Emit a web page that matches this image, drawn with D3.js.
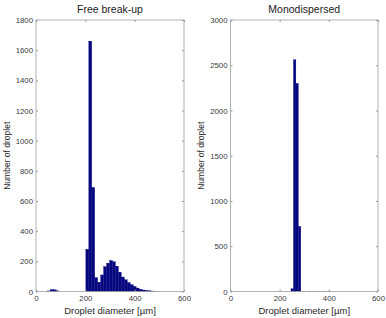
<!DOCTYPE html>
<html>
<head>
<meta charset="utf-8">
<script src="https://cdn.jsdelivr.net/npm/d3@7"></script>
<style>
  body { margin: 0; background: #fff; }
  svg { display: block; font-family: "Liberation Sans", Arial, sans-serif; }
</style>
</head>
<body>
<svg id="chart" width="386" height="318"></svg>
<script>
// free break-up histogram: bin edges [µm] and counts
var freeEdges = [46, 58, 70, 82, 94, 202, 214, 226, 238, 250, 262, 274, 286, 298, 310, 322,
                 334, 346, 358, 370, 382, 394, 406, 418, 430, 442, 454, 466, 478, 490];
var freeCounts = [4, 13, 11, 4, 0, 280, 1660, 690, 92, 62, 110, 165, 188, 206, 198, 168,
                  128, 96, 78, 60, 46, 34, 23, 15, 10, 7, 5, 3, 1];

// monodispersed histogram
var monoEdges = [246, 256, 266, 276, 286, 296, 306, 316, 326, 336, 346, 356, 366, 376, 386, 396, 406];
var monoCounts = [30, 2560, 2300, 720, 0, 2, 0, 3, 0, 2, 0, 3, 0, 2, 0, 1];

var xTicks = [0, 200, 400, 600];
var freeYTicks = [0, 200, 400, 600, 800, 1000, 1200, 1400, 1600, 1800];
var monoYTicks = [0, 500, 1000, 1500, 2000, 2500, 3000];

var svg = d3.select('#chart');
var fmt = d3.format('d');

var panel = (opts) => {
  let x = d3.scaleLinear().domain([0, 600]).range([opts.left, opts.right]);
  let y = d3.scaleLinear().domain([0, opts.ymax]).range([opts.bottom, opts.top]);

  let g = svg.append('g');

  // bars
  let bins = opts.counts.map((c, i) => ({ x0: opts.edges[i], x1: opts.edges[i + 1], c: c }))
    .filter((b) => b.c > 0);

  g.selectAll('rect.bar')
    .data(bins)
    .enter().append('rect')
    .attr('class', 'bar')
    .attr('x', (d) => x(d.x0))
    .attr('width', (d) => x(d.x1) - x(d.x0))
    .attr('y', (d) => y(d.c))
    .attr('height', (d) => y(0) - y(d.c))
    .attr('fill', '#06067f')
    .attr('stroke', '#06067f')
    .attr('stroke-width', 0.3);

  // axes, ticks inside on all four sides
  let ax = (axis, tr) => {
    let a = g.append('g').attr('transform', tr).call(axis);
    a.select('.domain').remove();
    a.selectAll('.tick line').attr('stroke', '#9a9a9a');
    a.selectAll('.tick text').attr('fill', '#3a3a3a').attr('font-size', 7.8).style('font-family', 'Liberation Sans, Arial, sans-serif');
    return a;
  };

  ax(d3.axisBottom(x).tickValues(xTicks).tickFormat(fmt).tickSize(-2).tickPadding(4), `translate(0,${opts.bottom})`);
  ax(d3.axisTop(x).tickValues(xTicks).tickSize(-2).tickFormat(''), `translate(0,${opts.top})`);
  ax(d3.axisLeft(y).tickValues(opts.yTicks).tickFormat(fmt).tickSize(-2).tickPadding(3), `translate(${opts.left},0)`);
  ax(d3.axisRight(y).tickValues(opts.yTicks).tickSize(-2).tickFormat(''), `translate(${opts.right},0)`);

  g.append('rect')
    .attr('x', opts.left)
    .attr('y', opts.top)
    .attr('width', opts.right - opts.left)
    .attr('height', opts.bottom - opts.top)
    .attr('fill', 'none')
    .attr('stroke', '#a0a0a0')
    .attr('stroke-width', 0.8);

  g.append('text')
    .attr('x', (opts.left + opts.right) / 2)
    .attr('y', 13)
    .attr('text-anchor', 'middle')
    .attr('font-size', 10.5)
    .attr('fill', '#222')
    .text(opts.title);

  g.append('text')
    .attr('x', (opts.left + opts.right) / 2)
    .attr('y', 314)
    .attr('text-anchor', 'middle')
    .attr('font-size', 9.5)
    .attr('fill', '#2a2a2a')
    .text('Droplet diameter [µm]');

  g.append('text')
    .attr('transform', `translate(${opts.ylabX},${(opts.top + opts.bottom) / 2}) rotate(-90)`)
    .attr('text-anchor', 'middle')
    .attr('font-size', 8.5)
    .attr('fill', '#2a2a2a')
    .text('Number of droplet');
};

panel({
  left: 36, right: 184, top: 20, bottom: 291.5,
  ymax: 1800, yTicks: freeYTicks, edges: freeEdges, counts: freeCounts,
  title: 'Free break-up', ylabX: 10
});

panel({
  left: 230.5, right: 378, top: 20, bottom: 291.5,
  ymax: 3000, yTicks: monoYTicks, edges: monoEdges, counts: monoCounts,
  title: 'Monodispersed', ylabX: 204
});
</script>
</body>
</html>
